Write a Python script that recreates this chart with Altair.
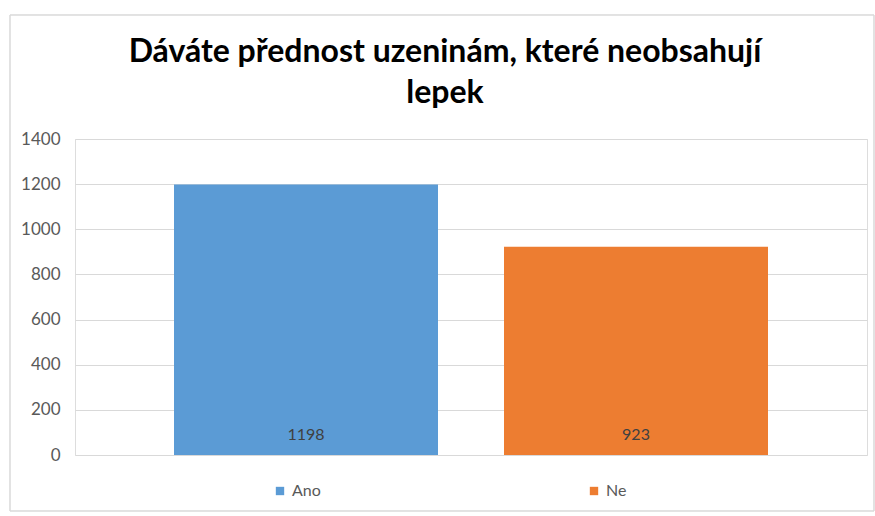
import altair as alt
import pandas as pd

categories = ["Ano", "Ne"]
values = [1198, 923]
colors = ["#5B9BD5", "#ED7D31"]
y_ticks = [0, 200, 400, 600, 800, 1000, 1200, 1400]
title_lines = ["Dáváte přednost uzeninám, které neobsahují", "lepek"]

df = pd.DataFrame({"odpoved": categories, "pocet": values})

x_enc = alt.X("odpoved:N", scale=alt.Scale(domain=categories, paddingInner=0.2, paddingOuter=0.3), axis=None)

frame = alt.Chart(df).mark_rect(fill=None, stroke="#d9d9d9", strokeWidth=1, clip=False).encode(
    x=alt.value(-65), x2=alt.value(799), y=alt.value(-124), y2=alt.value(372)
)

bars = alt.Chart(df).mark_bar().encode(
    x=x_enc,
    y=alt.Y("pocet:Q", scale=alt.Scale(domain=[0, 1400]),
            axis=alt.Axis(values=y_ticks, format="d", title=None, grid=True, domain=False, ticks=False,
                          labelPadding=15, labelFontSize=17, labelColor="#595959",
                          labelFont="Lato", gridColor="#d9d9d9", gridWidth=1)),
    color=alt.Color("odpoved:N", scale=alt.Scale(domain=categories, range=colors),
                    legend=alt.Legend(title=None, orient="none", legendX=197, legendY=344,
                                      direction="horizontal", columnPadding=265,
                                      symbolType="square", symbolSize=70, symbolStrokeWidth=0,
                                      labelFontSize=16, labelColor="#595959", labelFont="Lato")),
)

labels = alt.Chart(df).mark_text(baseline="bottom", dy=-12, fontSize=16, color="#404040", font="Lato").encode(
    x=x_enc,
    y=alt.datum(0),
    text="pocet:Q",
)

chart = alt.layer(frame, bars, labels).properties(
    width=792, height=316,
    title=alt.TitleParams(title_lines, anchor="middle", dx=-26, offset=-95, fontSize=32,
                          font="Lato", fontWeight="bold", color="#000000", lineHeight=41),
    autosize=alt.AutoSizeParams(type="none"),
    padding={"left": 75, "top": 139, "right": 8, "bottom": 61},
).configure_view(stroke=None).configure(background="white")

chart.save("out.html", embed_options={"renderer": "svg", "actions": False})
